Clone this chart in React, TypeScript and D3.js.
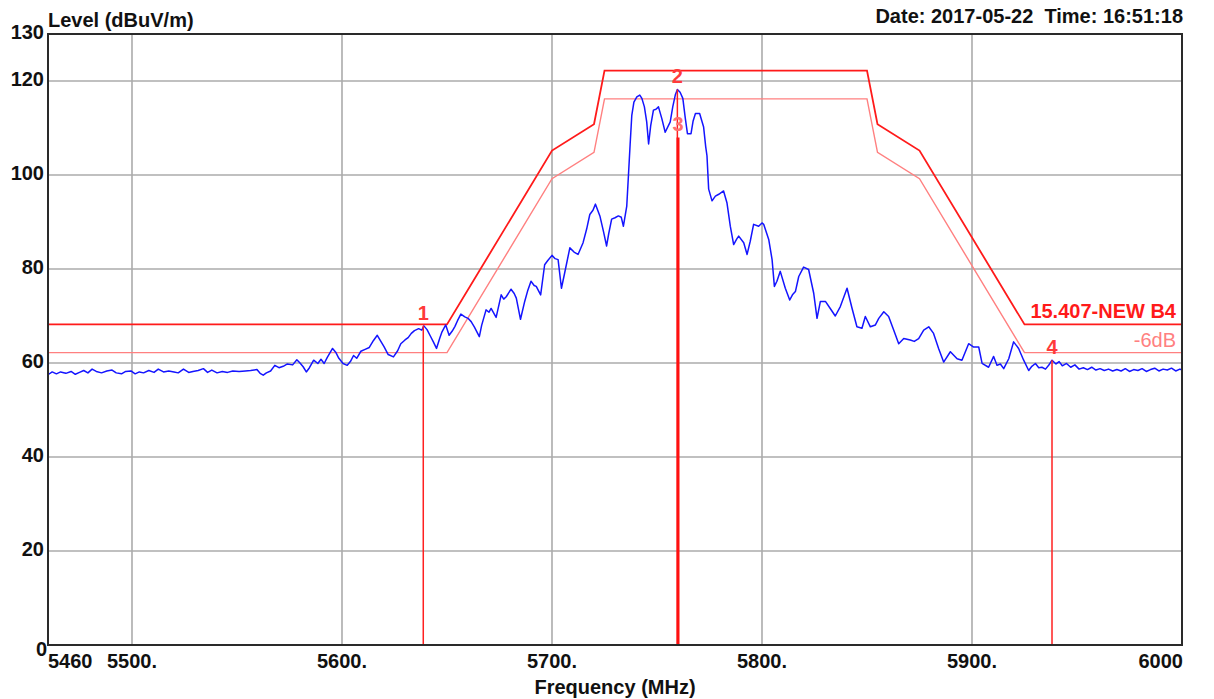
import React from 'react';
import * as d3 from 'd3';

// ---- data ----
const FREQ = [
  5460.0, 5462.0, 5464.0, 5466.0, 5468.5, 5471.0, 5473.0, 5475.0, 5477.0, 5479.0,
  5481.0, 5483.0, 5485.5, 5488.0, 5490.5, 5492.5, 5495.0, 5497.0, 5499.5, 5501.5,
  5503.5, 5505.5, 5508.0, 5510.5, 5512.5, 5515.0, 5517.5, 5520.0, 5522.0, 5524.5,
  5527.0, 5529.0, 5531.5, 5534.0, 5536.0, 5538.0, 5540.5, 5543.0, 5545.5, 5548.0,
  5551.0, 5554.0, 5556.5, 5559.5, 5561.0, 5562.5, 5564.0, 5566.0, 5568.0, 5570.0,
  5572.0, 5574.0, 5576.5, 5578.5, 5580.0, 5581.5, 5583.0, 5584.5, 5586.5, 5588.5,
  5590.0, 5591.5, 5593.0, 5595.5, 5597.0, 5598.5, 5600.5, 5602.5, 5604.0, 5605.5,
  5607.0, 5609.0, 5611.0, 5613.0, 5615.0, 5616.8, 5618.5, 5620.0, 5622.0, 5624.5,
  5626.5, 5628.0, 5630.0, 5631.5, 5633.0, 5634.5, 5636.5, 5638.0, 5639.0, 5640.5,
  5642.0, 5643.5, 5645.0, 5646.5, 5647.5, 5649.4, 5651.0, 5652.5, 5653.8, 5655.0,
  5656.6, 5658.5, 5660.0, 5661.5, 5663.0, 5665.4, 5666.5, 5668.6, 5670.0, 5671.0,
  5673.4, 5675.8, 5677.0, 5678.2, 5680.5, 5682.0, 5683.0, 5685.0, 5687.0, 5688.5,
  5690.0, 5691.5, 5692.5, 5694.6, 5696.5, 5698.0, 5700.0, 5701.5, 5702.9, 5704.5,
  5706.0, 5708.5, 5710.5, 5712.4, 5714.8, 5716.5, 5718.0, 5719.5, 5720.7, 5722.8,
  5724.5, 5726.0, 5727.0, 5728.4, 5730.0, 5731.6, 5733.0, 5734.0, 5735.6, 5736.4,
  5737.2, 5738.0, 5739.0, 5740.4, 5741.8, 5742.8, 5744.0, 5745.1, 5746.0, 5747.0,
  5748.3, 5749.5, 5750.7, 5752.3, 5753.9, 5756.3, 5757.5, 5758.7, 5759.7, 5761.0,
  5762.3, 5763.5, 5764.5, 5766.2, 5767.2, 5768.3, 5770.3, 5772.2, 5773.2, 5773.8,
  5774.6, 5776.2, 5777.8, 5779.4, 5781.7, 5783.3, 5784.9, 5786.5, 5788.0, 5788.9,
  5791.3, 5792.9, 5794.4, 5796.0, 5798.4, 5800.0, 5800.8, 5803.2, 5804.8, 5805.9,
  5807.1, 5808.7, 5811.1, 5813.2, 5814.5, 5815.9, 5817.5, 5819.8, 5822.2, 5824.6,
  5826.2, 5827.8, 5830.2, 5832.5, 5834.9, 5837.3, 5840.5, 5842.9, 5845.2, 5847.6,
  5849.2, 5851.6, 5854.0, 5855.6, 5858.0, 5860.3, 5862.7, 5865.1, 5867.5, 5870.6,
  5872.5, 5874.6, 5877.0, 5879.4, 5881.7, 5884.1, 5886.5, 5889.7, 5892.9, 5895.2,
  5898.4, 5900.8, 5903.2, 5904.8, 5907.9, 5910.3, 5911.9, 5913.5, 5915.1, 5917.5,
  5919.8, 5922.2, 5924.6, 5927.0, 5928.5, 5930.2, 5931.8, 5933.3, 5935.0, 5936.5,
  5938.1, 5940.0, 5941.5, 5943.0, 5945.0, 5947.0, 5949.0, 5951.0, 5953.0, 5955.0,
  5957.0, 5959.0, 5961.0, 5963.0, 5965.0, 5967.0, 5969.0, 5971.0, 5973.0, 5975.0,
  5977.0, 5979.0, 5981.0, 5983.0, 5985.0, 5987.0, 5989.0, 5991.0, 5993.0, 5995.0,
  5997.0, 5999.0, 6000.0,
];

const LEVEL = [
  57.5, 58.1, 57.7, 58.1, 57.8, 58.2, 57.6, 58.0, 58.4, 57.9,
  58.7, 58.2, 57.9, 58.3, 58.5, 57.9, 57.7, 58.2, 58.3, 57.7,
  58.1, 57.9, 58.4, 58.0, 58.7, 58.1, 58.3, 58.1, 57.9, 58.7,
  58.0, 58.2, 58.4, 58.8, 58.0, 58.5, 57.9, 58.2, 58.0, 58.3,
  58.2, 58.3, 58.4, 58.6, 57.8, 57.4, 57.9, 58.3, 59.5, 59.0,
  59.3, 59.8, 59.6, 60.7, 60.0, 59.2, 58.1, 59.0, 60.6, 59.9,
  60.8, 59.9, 61.2, 63.1, 62.3, 61.0, 59.9, 59.5, 60.3, 61.6,
  61.0, 62.5, 62.9, 63.3, 64.8, 65.9, 64.6, 63.5, 61.8, 61.3,
  62.6, 64.1, 64.9, 65.4, 66.3, 66.9, 67.3, 67.0, 67.9, 67.1,
  65.8, 64.5, 63.1, 65.2, 66.5, 68.1, 65.9, 66.8, 67.8, 69.0,
  70.4, 69.8, 69.5, 68.8, 67.7, 65.6, 68.0, 71.3, 70.8, 71.6,
  69.7, 74.5, 73.6, 74.1, 75.7, 74.8, 73.8, 69.3, 73.1, 75.5,
  77.4, 76.5, 76.3, 74.5, 80.9, 81.8, 82.9, 82.2, 82.0, 75.9,
  79.1, 84.5, 83.6, 83.1, 85.6, 88.5, 91.6, 92.5, 93.8, 91.3,
  88.0, 84.9, 87.5, 90.6, 90.9, 91.3, 91.0, 89.1, 93.4, 99.9,
  106.5, 112.7, 115.5, 116.6, 117.0, 116.3, 114.5, 111.3, 106.6, 110.5,
  113.8, 114.0, 114.5, 112.0, 109.1, 111.3, 114.5, 117.0, 118.2, 117.6,
  116.3, 112.0, 108.8, 108.8, 111.5, 113.1, 113.1, 110.2, 106.0, 104.1,
  97.0, 94.5, 95.5, 95.9, 96.6, 94.1, 89.1, 85.2, 86.4, 87.0,
  85.6, 83.1, 85.9, 89.5, 89.1, 89.8, 89.5, 86.3, 82.0, 76.3,
  77.4, 79.5, 75.9, 73.4, 74.5, 75.2, 78.4, 80.4, 79.9, 74.9,
  69.5, 73.1, 73.1, 71.6, 70.0, 72.0, 75.9, 71.6, 67.7, 67.4,
  69.9, 67.7, 68.1, 69.5, 70.9, 69.9, 67.0, 64.1, 65.2, 64.9,
  64.6, 65.2, 67.0, 67.7, 66.3, 63.1, 60.2, 62.4, 60.9, 60.6,
  64.1, 63.4, 63.4, 59.9, 59.1, 61.4, 59.5, 59.8, 58.8, 60.9,
  64.5, 63.1, 60.6, 58.4, 59.3, 59.9, 59.0, 59.1, 58.7, 59.5,
  60.6, 59.8, 60.3, 59.4, 59.9, 59.1, 59.6, 58.7, 59.0, 58.6,
  59.1, 58.5, 58.8, 58.4, 58.7, 58.3, 58.6, 58.3, 58.8, 58.2,
  58.6, 58.4, 58.8, 58.2, 58.6, 58.9, 58.3, 58.7, 58.5, 58.9,
  58.3, 58.7, 58.5,
];

const LIMIT_FREQ = [5460, 5650, 5700, 5720, 5725, 5850, 5855, 5875, 5925, 6000];
const LIMIT_LEVEL = [68.2, 68.2, 105.2, 110.8, 122.2, 122.2, 110.8, 105.2, 68.2, 68.2];
const LIMIT6_LEVEL = [62.2, 62.2, 99.2, 104.8, 116.2, 116.2, 104.8, 99.2, 62.2, 62.2];

const Y_TICKS = [0, 20, 40, 60, 80, 100, 120, 130];
const Y_GRID = [20, 40, 60, 80, 100, 120];
const X_TICKS = [5460, 5500, 5600, 5700, 5800, 5900, 6000];
const X_TICK_LABELS = ['5460', '5500.', '5600.', '5700.', '5800.', '5900.', '6000'];
const X_GRID = [5500, 5600, 5700, 5800, 5900];

const MARKER_IDS = ['1', '2', '3', '4'];
const MARKER_FREQ = [5638.7, 5759.7, 5760.0, 5938.1];
const MARKER_LEVEL = [67.9, 118.2, 108.0, 60.6];

const LIMIT_NAME = '15.407-NEW B4';
const LIMIT6_NAME = '-6dB';
const Y_TITLE = 'Level (dBuV/m)';
const X_TITLE = 'Frequency (MHz)';
const HEADER = 'Date: 2017-05-22\u00a0\u00a0Time: 16:51:18';

const W = 1214;
const H = 699;
const L = 48, R = 1182, T = 34, B = 645;
const FONT = '"Liberation Sans", Arial, Helvetica, sans-serif';

export default function App() {
  const x = d3.scaleLinear().domain([5460, 6000]).range([L, R]);
  const y = d3.scaleLinear().domain([0, 130]).range([B, T]);

  const trace = d3.line<number>().x((_, i) => x(FREQ[i])).y((v) => y(v))(LEVEL) || '';
  const lim = d3.line<number>().x((_, i) => x(LIMIT_FREQ[i])).y((v) => y(v))(LIMIT_LEVEL) || '';
  const lim6 = d3.line<number>().x((_, i) => x(LIMIT_FREQ[i])).y((v) => y(v))(LIMIT6_LEVEL) || '';

  const markerStyle = [
    { color: '#ff2020', w: 1.5, label: '#ff3a3a' },
    { color: '#ff2020', w: 1.5, label: '#ff3a3a' },
    { color: '#ff1010', w: 3, label: '#ff7070' },
    { color: '#ff2020', w: 1.5, label: '#ff3a3a' },
  ];

  return (
    <svg
      width={W}
      height={H}
      style={{ position: 'absolute', left: 0, top: 0, background: '#fff' }}
      fontFamily={FONT}
    >
      <rect x={0} y={0} width={W} height={H} fill="#fff" />
      {/* grid */}
      {Y_GRID.map((v) => (
        <line key={'gy' + v} x1={L} x2={R} y1={y(v)} y2={y(v)} stroke="#ababab" strokeWidth={1.6} />
      ))}
      {X_GRID.map((f) => (
        <line key={'gx' + f} x1={x(f)} x2={x(f)} y1={T} y2={B} stroke="#ababab" strokeWidth={1.6} />
      ))}

      {/* limit lines */}
      <path d={lim6} fill="none" stroke="#ff8080" strokeWidth={1.4} />
      <path d={lim} fill="none" stroke="#ff1a1a" strokeWidth={1.8} />

      {/* trace */}
      <path d={trace} fill="none" stroke="#1414ff" strokeWidth={1.5} strokeLinejoin="round" />

      {/* markers */}
      {MARKER_IDS.map((id, i) => (
        <g key={'m' + id}>
          <line
            x1={x(MARKER_FREQ[i])}
            x2={x(MARKER_FREQ[i])}
            y1={B}
            y2={y(MARKER_LEVEL[i])}
            stroke={markerStyle[i].color}
            strokeWidth={markerStyle[i].w}
          />
          <text
            x={x(MARKER_FREQ[i])}
            y={y(MARKER_LEVEL[i]) - 6}
            textAnchor="middle"
            fontSize={20}
            fontWeight="bold"
            fill={markerStyle[i].label}
          >
            {id}
          </text>
        </g>
      ))}

      {/* limit labels */}
      <text x={R - 6} y={y(LIMIT_LEVEL[LIMIT_LEVEL.length - 1]) - 6} textAnchor="end" fontSize={20} fontWeight="bold" fill="#ff1a1a">
        {LIMIT_NAME}
      </text>
      <text x={R - 6} y={y(LIMIT6_LEVEL[LIMIT6_LEVEL.length - 1]) - 6} textAnchor="end" fontSize={20} fill="#ff8080">
        {LIMIT6_NAME}
      </text>

      {/* frame */}
      <rect x={L} y={T} width={R - L} height={B - T} fill="none" stroke="#2a2a2a" strokeWidth={2} />

      {/* y tick labels */}
      {Y_TICKS.map((v) => (
        <text
          key={'yt' + v}
          x={v === 0 ? L - 1 : L - 4}
          y={v === 0 ? y(v) + 11 : y(v) + 5}
          textAnchor="end"
          fontSize={20}
          fontWeight="bold"
          fill="#111"
        >
          {v}
        </text>
      ))}

      {/* x tick labels */}
      {X_TICKS.map((f, i) => (
        <text
          key={'xt' + f}
          x={i === 0 ? L : i === X_TICKS.length - 1 ? R + 1 : x(f)}
          y={668}
          textAnchor={i === 0 ? 'start' : i === X_TICKS.length - 1 ? 'end' : 'middle'}
          fontSize={20}
          fontWeight="bold"
          fill="#111"
        >
          {X_TICK_LABELS[i]}
        </text>
      ))}

      {/* titles */}
      <text x={L} y={27} fontSize={20} fontWeight="bold" fill="#111">
        {Y_TITLE}
      </text>
      <text x={R + 1} y={23} textAnchor="end" fontSize={20} fontWeight="bold" fill="#111">
        {HEADER}
      </text>
      <text x={(L + R) / 2} y={694} textAnchor="middle" fontSize={20} fontWeight="bold" fill="#111">
        {X_TITLE}
      </text>
    </svg>
  );
}
